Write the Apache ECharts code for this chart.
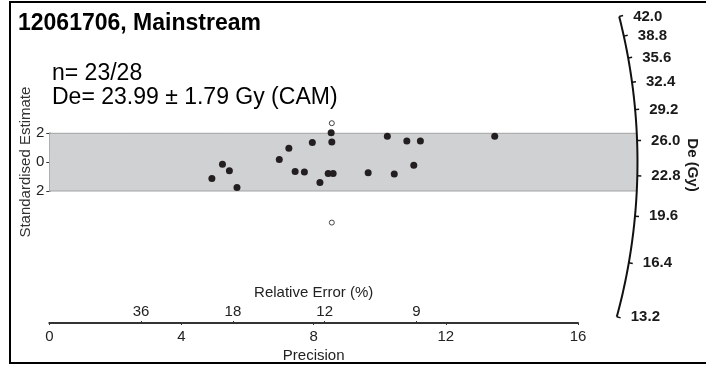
<!DOCTYPE html>
<html><head><meta charset="utf-8">
<script src="https://cdn.jsdelivr.net/npm/echarts@6/dist/echarts.min.js"></script>
<style>html,body{margin:0;padding:0;background:#fff}#c{width:706px;height:365px}</style>
</head><body><div id="c"></div>
<script>
// ---- data ----
const titleText = '12061706, Mainstream';
const infoLines = ['n= 23/28', 'De= 23.99 ± 1.79 Gy (CAM)'];
const centralDe = 23.99;
const acceptedPrecision = [8.53, 8.55, 7.96, 7.25, 6.96, 5.24, 5.45, 4.92, 5.68, 7.44, 7.72, 8.19, 8.44, 8.59, 10.23, 10.82, 11.23, 13.48, 9.65, 10.44, 11.03];
const acceptedZ         = [2.03, 1.39, 1.36, 0.97, 0.18, -0.14, -0.60, -1.14, -1.76, -0.65, -0.69, -1.41, -0.78, -0.78, 1.80, 1.46, 1.46, 1.80, -0.74, -0.83, -0.21];
const rejectedPrecision = [8.55, 8.55];
const rejectedZ         = [2.70, -4.19];
const precisionTicks = [0, 4, 8, 12, 16];
const relErrorTicks = [36, 18, 12, 9];
const deTicks = [13.2, 16.4, 19.6, 22.8, 26.0, 29.2, 32.4, 35.6, 38.8, 42.0];
const zTicks = [-2, 0, 2];

// ---- style constants ----
const FONT = '"Liberation Sans", Arial, sans-serif';
const arcRadius = 17.8;   // in precision units (pixel-equivalent along x)
const arcScale = 1.045;

const chart = echarts.init(document.getElementById('c'), null, {renderer: 'canvas'});

function renderRadial(params, api) {
  const o = api.coord([0, 0]);
  const s = api.size([1, 1]);
  const R = arcRadius * s[0];
  const yTop = api.coord([0, zTicks[zTicks.length - 1]])[1];
  const yBot = api.coord([0, zTicks[0]])[1];
  const ang = v => Math.atan(Math.log(v / centralDe) * s[1] * arcScale / s[0]);
  const pt = (a, r) => [o[0] + r * Math.cos(a), o[1] - r * Math.sin(a)];
  const N = 90;
  const aMin = ang(deTicks[0]), aMax = ang(deTicks[deTicks.length - 1]);
  const arcPts = [];
  for (let i = 0; i <= N; i++) arcPts.push(pt(aMin + (aMax - aMin) * i / N, R));
  const aTop = Math.asin((o[1] - yTop) / R), aBot = Math.asin((o[1] - yBot) / R);
  const bandPts = [[o[0], yTop]];
  for (let i = 0; i <= N; i++) bandPts.push(pt(aTop + (aBot - aTop) * i / N, R));
  bandPts.push([o[0], yBot]);
  const children = [
    {type: 'polygon', shape: {points: bandPts}, style: {fill: '#d0d1d3', stroke: null}},
    {type: 'line', shape: {x1: o[0], y1: yTop, x2: bandPts[1][0], y2: yTop}, style: {stroke: '#a3a3a3', lineWidth: 1}},
    {type: 'line', shape: {x1: o[0], y1: yBot, x2: bandPts[N + 1][0], y2: yBot}, style: {stroke: '#a3a3a3', lineWidth: 1}},
    {type: 'polyline', shape: {points: arcPts}, style: {stroke: '#111', lineWidth: 2, fill: null}}
  ];
  deTicks.forEach(v => {
    const a = ang(v);
    const p1 = pt(a, R), p2 = pt(a, R + 4);
    children.push({type: 'line', shape: {x1: p1[0], y1: p1[1], x2: p2[0], y2: p2[1]}, style: {stroke: '#111', lineWidth: 1.5}});
    children.push({type: 'text', x: p1[0] + 14, y: p1[1], style: {text: v.toFixed(1), font: 'bold 15px ' + FONT, fill: '#1a1a1a', align: 'left', verticalAlign: 'middle'}});
  });
  return {type: 'group', children};
}

const option = {
  backgroundColor: '#fff',
  animation: false,
  title: {text: titleText, left: 18, top: 12, padding: 0,
    textStyle: {fontFamily: FONT, fontSize: 23, fontWeight: 'bold', color: '#000'}},
  grid: {left: 49.3, right: 128, top: 133.3, bottom: 174, containLabel: false},
  xAxis: [
    {type: 'value', position: 'bottom', offset: 132, min: 0, max: 16, interval: 4,
      axisLine: {show: true, onZero: false, lineStyle: {color: '#333', width: 2}},
      axisTick: {show: true, length: 2, lineStyle: {color: '#333'}},
      axisLabel: {show: true, margin: 6, fontSize: 15, fontFamily: FONT, color: '#222',
        customValues: precisionTicks},
      splitLine: {show: false},
      name: 'Precision', nameLocation: 'middle', nameGap: 25,
      nameTextStyle: {fontSize: 15, fontFamily: FONT, color: '#222'}},
    {type: 'value', position: 'top', offset: -189.7, min: 0, max: 16,
      axisLine: {show: false, onZero: false},
      axisTick: {show: true, length: 2, lineStyle: {color: '#333'}, customValues: relErrorTicks.map(r => 100 / r)},
      axisLabel: {show: true, margin: 4, fontSize: 15, fontFamily: FONT, color: '#222',
        customValues: relErrorTicks.map(r => 100 / r),
        formatter: v => String(Math.round(100 / v))},
      splitLine: {show: false},
      name: 'Relative Error (%)', nameLocation: 'middle', nameGap: 23,
      nameTextStyle: {fontSize: 15, fontFamily: FONT, color: '#222'}}
  ],
  yAxis: {type: 'value', min: -2, max: 2, interval: 2,
    axisLine: {show: true, onZero: false, lineStyle: {color: '#333', width: 1.5}},
    axisTick: {show: true, length: 3, lineStyle: {color: '#333'}},
    axisLabel: {margin: 5, fontSize: 15, fontFamily: FONT, color: '#222',
      formatter: v => String(Math.abs(v))},
    splitLine: {show: false},
    name: 'Standardised Estimate', nameLocation: 'middle', nameGap: 16, nameMoveOverlap: false,
    nameTextStyle: {fontSize: 15, fontFamily: FONT, color: '#333'}},
  series: [
    {type: 'custom', coordinateSystem: 'cartesian2d', xAxisIndex: 0, yAxisIndex: 0,
      data: [[0, 0]], renderItem: renderRadial, clip: false, silent: true, z: 1},
    {type: 'scatter', xAxisIndex: 0, name: 'accepted', clip: false, z: 3,
      data: acceptedPrecision.map((p, i) => [p, acceptedZ[i]]),
      symbol: 'circle', symbolSize: 7, itemStyle: {color: '#231f20', opacity: 1}},
    {type: 'scatter', xAxisIndex: 0, name: 'rejected', clip: false, z: 3,
      data: rejectedPrecision.map((p, i) => [p, rejectedZ[i]]),
      symbol: 'circle', symbolSize: 5, itemStyle: {color: '#fff', borderColor: '#444', borderWidth: 1, opacity: 1}}
  ],
  graphic: [
    {type: 'polyline', shape: {points: [[706, 2], [10, 2], [10, 363], [706, 363]]}, style: {stroke: '#000', lineWidth: 2, fill: null}, z: 10},
    {type: 'text', x: 52, y: 74, style: {text: infoLines[0], font: '23px ' + FONT, fill: '#000', verticalAlign: 'middle'}},
    {type: 'text', x: 52, y: 98, style: {text: infoLines[1], font: '23px ' + FONT, fill: '#000', verticalAlign: 'middle'}},
    {type: 'text', x: 692, y: 165, rotation: -Math.PI / 2, style: {text: 'De (Gy)', font: 'bold 15px ' + FONT, fill: '#1a1a1a', align: 'center', verticalAlign: 'middle'}}
  ]
};
chart.setOption(option);
</script>
</body></html>
